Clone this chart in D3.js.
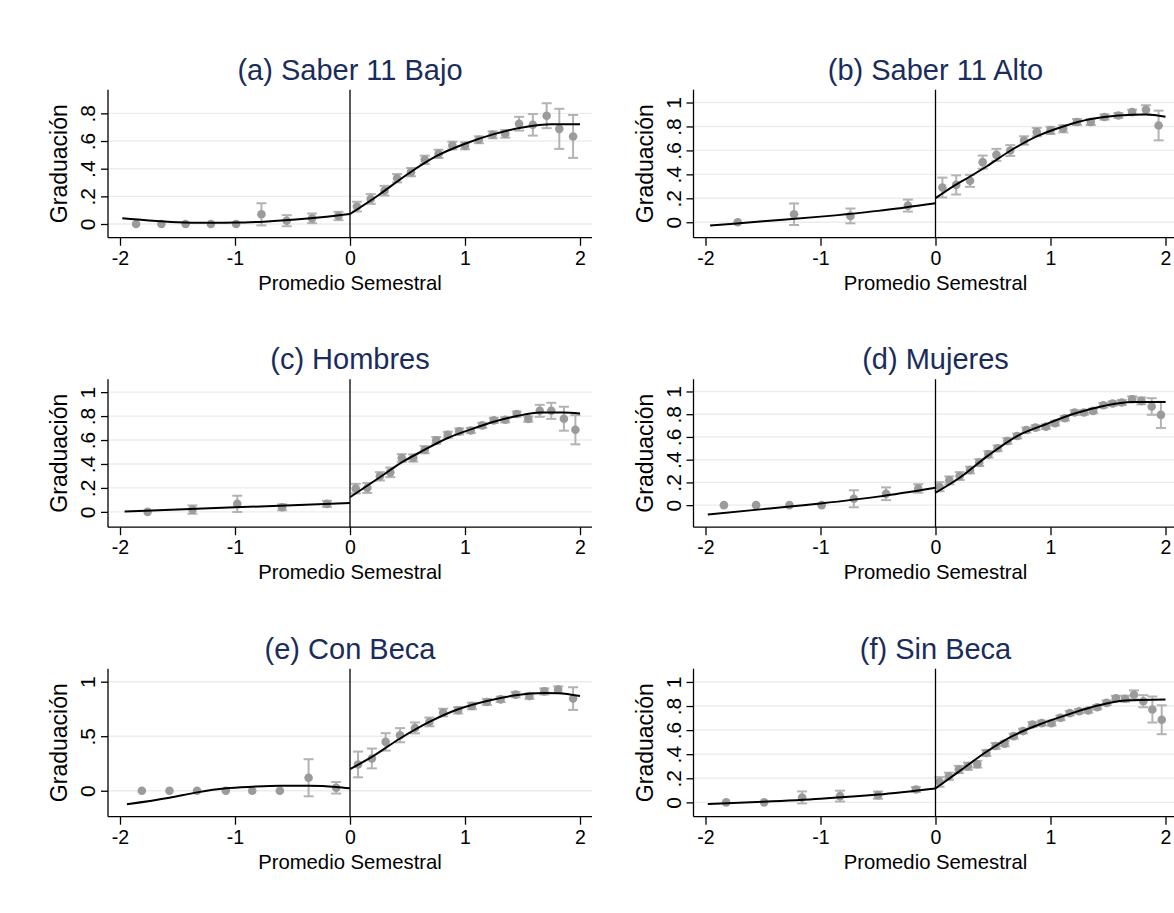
<!DOCTYPE html>
<html>
<head>
<meta charset="utf-8">
<script src="https://cdn.jsdelivr.net/npm/d3@7"></script>
<style>
  body { margin: 0; background: #fff; }
  svg { display: block; font-family: Arial, "Liberation Sans", Helvetica, sans-serif; }
</style>
</head>
<body>
<svg id="chart" width="1174" height="913"></svg>
<script>
// ---- Panel titles and axis ticks ----
const titles = ["(a) Saber 11 Bajo", "(b) Saber 11 Alto", "(c) Hombres", "(d) Mujeres", "(e) Con Beca", "(f) Sin Beca"];
const xTicks = [-2, -1, 0, 1, 2];
const yTicksA = [0, 0.2, 0.4, 0.6, 0.8];
const yTicksStd = [0, 0.2, 0.4, 0.6, 0.8, 1];
const yTicksE = [0, 0.5, 1];
const yRanges = [[-0.099, 0.971], [-0.129, 1.107], [-0.128, 1.108], [-0.194, 1.108], [-0.238, 1.119], [-0.119, 1.11]];

// ---- (a) Saber 11 Bajo: bin means, CI half-widths, fitted curves ----
const aX = [-1.86, -1.64, -1.43, -1.21, -0.99, -0.77, -0.55, -0.33, -0.10, 0.06, 0.18, 0.30, 0.41, 0.53, 0.65, 0.77, 0.89, 1.00, 1.12, 1.24, 1.35, 1.47, 1.59, 1.71, 1.82, 1.94];
const aY = [0, 0, 0, 0, 0, 0.070, 0.024, 0.041, 0.058, 0.126, 0.181, 0.241, 0.331, 0.375, 0.464, 0.507, 0.567, 0.565, 0.609, 0.645, 0.652, 0.725, 0.717, 0.783, 0.688, 0.633];
const aE = [0, 0, 0, 0, 0, 0.080, 0.040, 0.035, 0.030, 0.035, 0.035, 0.035, 0.030, 0.030, 0.030, 0.030, 0.028, 0.025, 0.025, 0.025, 0.028, 0.050, 0.078, 0.090, 0.145, 0.155];
const aFitLX = [-1.98, -1.75, -1.5, -1.25, -1.0, -0.75, -0.5, -0.25, 0];
const aFitLY = [0.041, 0.025, 0.013, 0.009, 0.010, 0.017, 0.030, 0.048, 0.072];
const aFitRX = [0, 0.25, 0.5, 0.75, 1.0, 1.25, 1.5, 1.75, 2.0];
const aFitRY = [0.072, 0.210, 0.360, 0.490, 0.580, 0.650, 0.698, 0.722, 0.722];

// ---- (b) Saber 11 Alto ----
const bX = [-1.72, -1.23, -0.74, -0.24, 0.06, 0.18, 0.30, 0.41, 0.53, 0.65, 0.77, 0.88, 1.00, 1.11, 1.23, 1.35, 1.47, 1.59, 1.71, 1.83, 1.94];
const bY = [0, 0.067, 0.053, 0.139, 0.290, 0.312, 0.346, 0.502, 0.563, 0.599, 0.683, 0.753, 0.767, 0.781, 0.837, 0.837, 0.879, 0.892, 0.920, 0.940, 0.808];
const bE = [0, 0.090, 0.062, 0.050, 0.083, 0.080, 0.050, 0.055, 0.050, 0.045, 0.035, 0.035, 0.030, 0.030, 0.025, 0.025, 0.022, 0.020, 0.020, 0.037, 0.124];
const bFitLX = [-1.96, -1.5, -1.0, -0.5, 0];
const bFitLY = [-0.028, 0.008, 0.047, 0.095, 0.159];
const bFitRX = [0, 0.15, 0.30, 0.45, 0.65, 0.88, 1.11, 1.35, 1.59, 1.83, 2.0];
const bFitRY = [0.201, 0.298, 0.382, 0.470, 0.597, 0.717, 0.800, 0.862, 0.892, 0.900, 0.881];

// ---- (c) Hombres ----
const cX = [-1.76, -1.37, -0.98, -0.59, -0.20, 0.05, 0.15, 0.26, 0.35, 0.45, 0.55, 0.65, 0.75, 0.85, 0.95, 1.05, 1.15, 1.25, 1.35, 1.45, 1.55, 1.65, 1.75, 1.86, 1.96];
const cY = [0, 0.019, 0.067, 0.038, 0.067, 0.194, 0.200, 0.297, 0.330, 0.450, 0.450, 0.519, 0.597, 0.644, 0.672, 0.680, 0.722, 0.764, 0.769, 0.817, 0.775, 0.844, 0.844, 0.778, 0.686];
const cE = [0, 0.035, 0.068, 0.025, 0.025, 0.040, 0.042, 0.035, 0.040, 0.032, 0.030, 0.030, 0.028, 0.025, 0.025, 0.022, 0.022, 0.022, 0.022, 0.022, 0.022, 0.050, 0.067, 0.100, 0.122];
const cFitLX = [-1.96, -1.5, -1.0, -0.5, 0];
const cFitLY = [0.003, 0.020, 0.038, 0.055, 0.075];
const cFitRX = [0, 0.25, 0.45, 0.65, 0.85, 1.05, 1.25, 1.45, 1.65, 1.85, 2.0];
const cFitRY = [0.122, 0.283, 0.413, 0.519, 0.617, 0.689, 0.753, 0.800, 0.830, 0.830, 0.822];

// ---- (d) Mujeres ----
const dX = [-1.84, -1.56, -1.27, -0.99, -0.71, -0.43, -0.15, 0.035, 0.12, 0.21, 0.30, 0.38, 0.46, 0.54, 0.625, 0.71, 0.79, 0.87, 0.96, 1.04, 1.125, 1.21, 1.29, 1.37, 1.46, 1.54, 1.62, 1.71, 1.79, 1.88, 1.96];
const dY = [0, 0, 0, 0, 0.056, 0.100, 0.147, 0.162, 0.218, 0.256, 0.309, 0.374, 0.447, 0.500, 0.564, 0.608, 0.661, 0.682, 0.691, 0.720, 0.764, 0.815, 0.815, 0.829, 0.879, 0.894, 0.903, 0.932, 0.917, 0.868, 0.794];
const dE = [0, 0, 0, 0, 0.075, 0.056, 0.037, 0.040, 0.035, 0.035, 0.030, 0.030, 0.028, 0.025, 0.025, 0.022, 0.022, 0.020, 0.020, 0.020, 0.020, 0.020, 0.020, 0.020, 0.020, 0.020, 0.022, 0.025, 0.030, 0.073, 0.115];
const dFitLX = [-1.98, -1.5, -1.0, -0.5, 0];
const dFitLY = [-0.082, -0.035, 0.015, 0.075, 0.153];
const dFitRX = [0, 0.21, 0.46, 0.71, 0.96, 1.21, 1.46, 1.71, 2.0];
const dFitRY = [0.109, 0.241, 0.438, 0.608, 0.712, 0.806, 0.873, 0.908, 0.908];

// ---- (e) Con Beca ----
const eX = [-1.81, -1.57, -1.33, -1.08, -0.85, -0.61, -0.36, -0.12, 0.07, 0.19, 0.31, 0.435, 0.565, 0.69, 0.81, 0.94, 1.06, 1.19, 1.31, 1.44, 1.56, 1.69, 1.81, 1.94];
const eY = [0, 0, 0, 0, 0, 0, 0.119, 0.027, 0.241, 0.296, 0.448, 0.509, 0.576, 0.631, 0.717, 0.738, 0.777, 0.814, 0.838, 0.881, 0.868, 0.911, 0.927, 0.845];
const eE = [0, 0, 0, 0, 0, 0, 0.170, 0.053, 0.118, 0.091, 0.080, 0.065, 0.050, 0.040, 0.035, 0.030, 0.030, 0.028, 0.025, 0.025, 0.025, 0.028, 0.030, 0.104];
const eFitLX = [-1.94, -1.57, -1.33, -1.08, -0.85, -0.61, -0.36, -0.12, 0];
const eFitLY = [-0.124, -0.064, -0.015, 0.022, 0.037, 0.046, 0.046, 0.035, 0.022];
const eFitRX = [0, 0.19, 0.435, 0.69, 0.94, 1.19, 1.44, 1.69, 1.81, 2.0];
const eFitRY = [0.198, 0.310, 0.479, 0.631, 0.747, 0.823, 0.875, 0.896, 0.893, 0.868];

// ---- (f) Sin Beca ----
const fX = [-1.82, -1.49, -1.16, -0.83, -0.50, -0.17, 0.035, 0.116, 0.203, 0.282, 0.363, 0.442, 0.523, 0.601, 0.68, 0.761, 0.843, 0.924, 1.009, 1.087, 1.168, 1.249, 1.328, 1.407, 1.488, 1.569, 1.648, 1.726, 1.807, 1.886, 1.967];
const fY = [0, 0, 0.041, 0.052, 0.060, 0.107, 0.170, 0.217, 0.273, 0.300, 0.317, 0.410, 0.468, 0.488, 0.550, 0.592, 0.647, 0.658, 0.658, 0.702, 0.741, 0.757, 0.763, 0.790, 0.826, 0.865, 0.860, 0.893, 0.840, 0.771, 0.686];
const fE = [0, 0, 0.050, 0.045, 0.030, 0.020, 0.040, 0.030, 0.030, 0.030, 0.028, 0.025, 0.025, 0.022, 0.020, 0.020, 0.020, 0.020, 0.020, 0.020, 0.018, 0.018, 0.018, 0.018, 0.020, 0.020, 0.025, 0.037, 0.050, 0.108, 0.120];
const fFitLX = [-1.98, -1.5, -1.0, -0.5, 0];
const fFitLY = [-0.014, 0.005, 0.030, 0.065, 0.116];
const fFitRX = [0, 0.20, 0.44, 0.68, 0.92, 1.17, 1.41, 1.65, 2.0];
const fFitRY = [0.116, 0.253, 0.418, 0.556, 0.653, 0.735, 0.804, 0.845, 0.854];

// ---- assemble panels ----
const zip = (xs, ys) => xs.map((x, i) => ({ x, y: ys[i] }));
const bins = (xs, ys, es) => xs.map((x, i) => ({ x, y: ys[i], e: es[i] }));
const panels = [
  { title: titles[0], yTicks: yTicksA, yRange: yRanges[0], pts: bins(aX, aY, aE), fitL: zip(aFitLX, aFitLY), fitR: zip(aFitRX, aFitRY) },
  { title: titles[1], yTicks: yTicksStd, yRange: yRanges[1], pts: bins(bX, bY, bE), fitL: zip(bFitLX, bFitLY), fitR: zip(bFitRX, bFitRY) },
  { title: titles[2], yTicks: yTicksStd, yRange: yRanges[2], pts: bins(cX, cY, cE), fitL: zip(cFitLX, cFitLY), fitR: zip(cFitRX, cFitRY) },
  { title: titles[3], yTicks: yTicksStd, yRange: yRanges[3], pts: bins(dX, dY, dE), fitL: zip(dFitLX, dFitLY), fitR: zip(dFitRX, dFitRY) },
  { title: titles[4], yTicks: yTicksE, yRange: yRanges[4], pts: bins(eX, eY, eE), fitL: zip(eFitLX, eFitLY), fitR: zip(eFitRX, eFitRY) },
  { title: titles[5], yTicks: yTicksStd, yRange: yRanges[5], pts: bins(fX, fY, fE), fitL: zip(fFitLX, fFitLY), fitR: zip(fFitRX, fFitRY) }
];

// ---- layout ----
const svg = d3.select("#chart");
const plotW = 484, plotH = 148;
const colLeft = [108, 693.5];
const rowBottom = [237.7, 527.2, 816.7];
const fmtY = d => (d === 0 ? "0" : d === 1 ? "1" : String(d).replace(/^0/, ""));

const titleColor = "#1a2c5b";
const gridColor = "#e7eef2";
const dotColor = "#9b9b9b";
const barColor = "#b3b3b3";

panels.forEach((p, i) => {
  const left = colLeft[i % 2];
  const bottom = rowBottom[Math.floor(i / 2)];
  const top = bottom - plotH;
  const right = left + plotW;

  const x = d3.scaleLinear().domain([-2, 2]).range([left + 12, left + 472]);
  const y = d3.scaleLinear().domain(p.yRange).range([bottom, top]);

  const g = svg.append("g");

  // grid lines
  g.append("g").selectAll("line").data(p.yTicks).join("line")
    .attr("x1", left).attr("x2", right)
    .attr("y1", d => y(d)).attr("y2", d => y(d))
    .attr("stroke", gridColor).attr("stroke-width", 1.4);

  // confidence intervals
  const ci = g.append("g").attr("stroke", barColor).attr("stroke-width", 2).attr("fill", "none");
  const withBars = p.pts.filter(d => d.e > 0);
  ci.selectAll("line.v").data(withBars).join("line").attr("class", "v")
    .attr("x1", d => x(d.x)).attr("x2", d => x(d.x))
    .attr("y1", d => y(d.y - d.e)).attr("y2", d => y(d.y + d.e));
  ci.selectAll("line.lo").data(withBars).join("line").attr("class", "lo")
    .attr("x1", d => x(d.x) - 5).attr("x2", d => x(d.x) + 5)
    .attr("y1", d => y(d.y - d.e)).attr("y2", d => y(d.y - d.e));
  ci.selectAll("line.hi").data(withBars).join("line").attr("class", "hi")
    .attr("x1", d => x(d.x) - 5).attr("x2", d => x(d.x) + 5)
    .attr("y1", d => y(d.y + d.e)).attr("y2", d => y(d.y + d.e));

  // bin means
  g.append("g").selectAll("circle").data(p.pts).join("circle")
    .attr("cx", d => x(d.x)).attr("cy", d => y(d.y)).attr("r", 4.3)
    .attr("fill", dotColor);

  // fitted curves on each side of the cutoff
  const line = d3.line().x(d => x(d.x)).y(d => y(d.y)).curve(d3.curveMonotoneX);
  [p.fitL, p.fitR].forEach(seg => {
    g.append("path").datum(seg).attr("d", line)
      .attr("fill", "none").attr("stroke", "#000").attr("stroke-width", 2);
  });

  // cutoff line
  g.append("line").attr("x1", x(0)).attr("x2", x(0)).attr("y1", top).attr("y2", bottom)
    .attr("stroke", "#000").attr("stroke-width", 1.3);

  // axis lines
  g.append("line").attr("x1", left).attr("x2", left).attr("y1", top).attr("y2", bottom)
    .attr("stroke", "#000").attr("stroke-width", 1.3);
  g.append("line").attr("x1", left).attr("x2", right).attr("y1", bottom).attr("y2", bottom)
    .attr("stroke", "#000").attr("stroke-width", 1.3);

  // x axis
  const gx = g.append("g").attr("transform", `translate(0,${bottom})`)
    .call(d3.axisBottom(x).tickValues(xTicks).tickSize(8).tickSizeOuter(0).tickFormat(d => String(d)));
  gx.select(".domain").remove();
  gx.selectAll(".tick line").attr("stroke", "#000").attr("stroke-width", 1.3);
  gx.selectAll(".tick text").attr("y", 27).attr("dy", 0)
    .attr("font-size", 19.5).attr("fill", "#000").attr("font-family", "Arial, 'Liberation Sans', sans-serif");

  // y axis with vertical labels
  const gy = g.append("g").attr("transform", `translate(${left},0)`)
    .call(d3.axisLeft(y).tickValues(p.yTicks).tickSize(7).tickSizeOuter(0).tickFormat(fmtY));
  gy.select(".domain").remove();
  gy.selectAll(".tick line").attr("stroke", "#000").attr("stroke-width", 1.3);
  gy.selectAll(".tick text")
    .attr("transform", "rotate(-90)").attr("x", 0).attr("y", -13).attr("dy", 0)
    .attr("text-anchor", "middle")
    .attr("font-size", 21).attr("fill", "#000").attr("font-family", "Arial, 'Liberation Sans', sans-serif");

  // axis titles
  g.append("text").attr("x", x(0)).attr("y", bottom + 52)
    .attr("text-anchor", "middle").attr("font-size", 20.3).attr("fill", "#000")
    .text("Promedio Semestral");
  g.append("text")
    .attr("transform", `translate(${left - 41},${(top + bottom) / 2}) rotate(-90)`)
    .attr("text-anchor", "middle").attr("font-size", 23).attr("fill", "#000")
    .text("Graduación");

  // panel title
  g.append("text").attr("x", (left + right) / 2).attr("y", top - 10)
    .attr("text-anchor", "middle").attr("font-size", 29).attr("fill", titleColor)
    .text(p.title);
});
</script>
</body>
</html>
